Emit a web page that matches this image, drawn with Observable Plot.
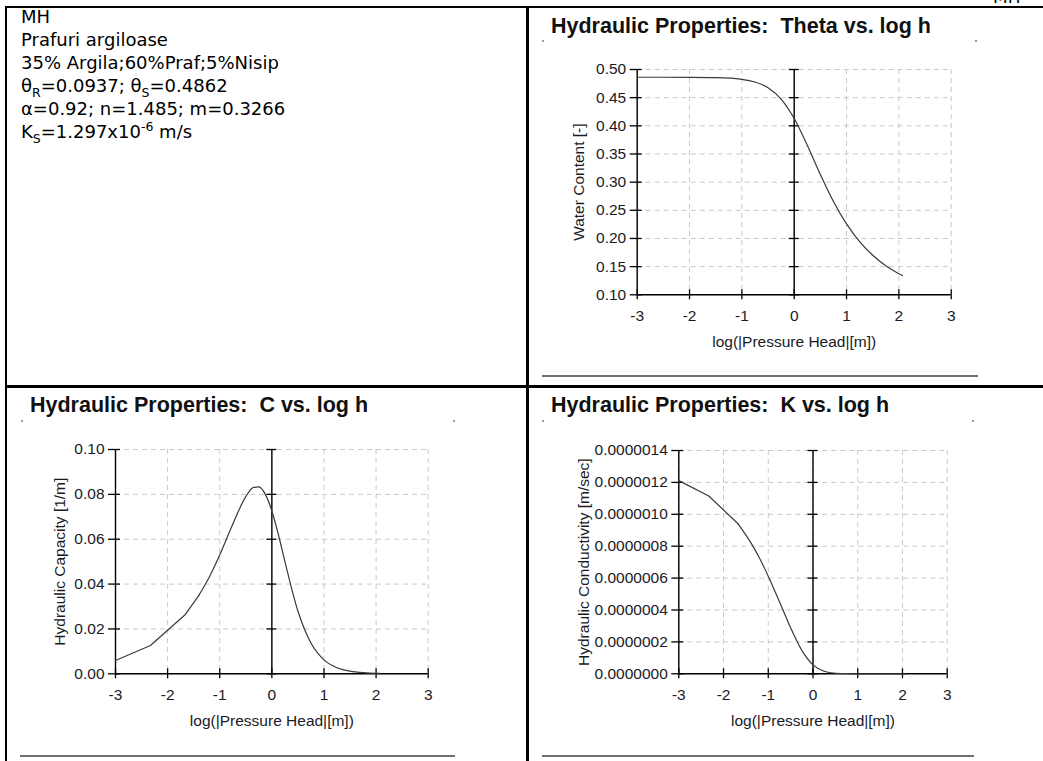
<!DOCTYPE html>
<html><head><meta charset="utf-8">
<script src="https://cdn.jsdelivr.net/npm/d3@7"></script>
<script src="https://cdn.jsdelivr.net/npm/@observablehq/plot@0.6"></script>
<style>
body{margin:0;background:#fff;}
#page{position:relative;width:1043px;height:761px;overflow:hidden;background:#fff;}
.bl{position:absolute;background:#000;}
.grule{position:absolute;background:#707070;height:2px;}
.dotm{position:absolute;width:2px;height:2px;background:#999;}
.title{position:absolute;font-family:"Liberation Sans",Arial,sans-serif;font-weight:bold;font-size:21.5px;line-height:24px;color:#111;white-space:pre;}
.info{position:absolute;left:21px;top:5px;font-family:"DejaVu Sans",Verdana,sans-serif;font-size:18px;line-height:23px;color:#000;white-space:nowrap;}
.info sub,.info sup{font-size:12.5px;line-height:0;}
.chart{position:absolute;}
.mh{position:absolute;left:993px;top:-14px;font-family:"DejaVu Sans",Verdana,sans-serif;font-size:17px;line-height:23px;}
</style></head>
<body><div id="page">
  <div class="bl" style="left:5px;top:6px;width:1038px;height:2px"></div>
  <div class="bl" style="left:5px;top:6px;width:2px;height:755px"></div>
  <div class="bl" style="left:526px;top:6px;width:3px;height:755px"></div>
  <div class="bl" style="left:5px;top:385px;width:1038px;height:3px"></div>
  <div class="mh">MH</div>
  <div class="info">
    <div>MH</div>
    <div>Prafuri argiloase</div>
    <div>35% Argila;60%Praf;5%Nisip</div>
    <div>θ<sub>R</sub>=0.0937; θ<sub>S</sub>=0.4862</div>
    <div>α=0.92; n=1.485; m=0.3266</div>
    <div>K<sub>S</sub>=1.297x10<sup>-6</sup> m/s</div>
  </div>
  <div class="title" style="left:551px;top:14px">Hydraulic Properties:  Theta vs. log h</div>
  <div class="title" style="left:30px;top:393px">Hydraulic Properties:  C vs. log h</div>
  <div class="title" style="left:551px;top:393px">Hydraulic Properties:  K vs. log h</div>
  <div class="dotm" style="left:542px;top:40px"></div><div class="dotm" style="left:975px;top:40px"></div>
  <div class="dotm" style="left:21px;top:420px"></div><div class="dotm" style="left:453px;top:420px"></div>
  <div class="dotm" style="left:542px;top:420px"></div><div class="dotm" style="left:972px;top:420px"></div>
  <div class="grule" style="left:542px;top:375px;width:436px"></div>
  <div class="grule" style="left:20px;top:755px;width:435px"></div>
  <div class="grule" style="left:542px;top:755px;width:432px"></div>
  <div id="c1" class="chart" style="left:530px;top:40px"></div>
  <div id="c2" class="chart" style="left:10px;top:420px"></div>
  <div id="c3" class="chart" style="left:530px;top:420px"></div>
</div>
<script>
const xTicks = [-3, -2, -1, 0, 1, 2, 3];
const xLabel = "log(|Pressure Head|[m])";

// Theta vs log h
const thetaLogH = [-3, -2.5, -2, -1.5, -1, -0.75, -0.5, -0.25, 0, 0.25, 0.5, 0.75, 1, 1.25, 1.5, 1.75, 2, 2.07];
const thetaValues = [0.4862, 0.4862, 0.4861, 0.4855, 0.4826, 0.4779, 0.4677, 0.4474, 0.4129, 0.3656, 0.3137, 0.2658, 0.2259, 0.1944, 0.1701, 0.1516, 0.1375, 0.1342];
const thetaTicks = [0.10, 0.15, 0.20, 0.25, 0.30, 0.35, 0.40, 0.45, 0.50];

// C vs log h
const cLogH = [-3, -2.33, -1.67, -1.4, -1.2, -1, -0.75, -0.5, -0.35, -0.25, -0.125, 0, 0.125, 0.25, 0.5, 0.75, 1, 1.25, 1.5, 1.75, 2, 2.07];
const cValues = [0.0059, 0.0126, 0.0262, 0.0350, 0.0432, 0.0530, 0.0667, 0.0790, 0.0831, 0.0833, 0.0800, 0.0726, 0.0621, 0.0501, 0.0280, 0.0137, 0.0062, 0.0027, 0.0012, 0.0005, 0.0002, 0.0002];
const cTicks = [0, 0.02, 0.04, 0.06, 0.08, 0.10];

// K vs log h
const kLogH = [-3, -2.33, -1.67, -1.4, -1.2, -1, -0.75, -0.5, -0.25, 0, 0.25, 0.5, 0.75, 1, 1.5, 2, 2.07];
const kValues = [1.211e-6, 1.115e-6, 0.939e-6, 0.827e-6, 0.728e-6, 0.612e-6, 0.452e-6, 0.288e-6, 0.147e-6, 0.056e-6, 0.0157e-6, 0.0034e-6, 0.0006e-6, 0.0001e-6, 0, 0, 0];
const kTicks = [0, 0.0000002, 0.0000004, 0.0000006, 0.0000008, 0.0000010, 0.0000012, 0.0000014];

// number of leading points joined by straight segments (visible kinks in the reference)
const straightCount = 4;

function makeChart({xs, ys, yTicks, yFormat, yLabel, width, height, mL, mR, mT, mB, yLabelOffset, straight}) {
  const data = xs.map((x, i) => ({x, y: ys[i]}));
  const head = straight ? data.slice(0, straight) : [];
  const tail = straight ? data.slice(straight - 1) : data;
  const yMin = yTicks[0], yMax = yTicks[yTicks.length - 1];
  const grid = {stroke: "#c9c9c9", strokeDasharray: "5,4", strokeWidth: 1};
  const curveStyle = {x: "x", y: "y", stroke: "#3a3a3a", strokeWidth: 1.2};
  return Plot.plot({
    width, height, marginLeft: mL, marginRight: mR, marginTop: mT, marginBottom: mB,
    style: {fontFamily: "'Liberation Sans', Arial, sans-serif", fontSize: "15.5px", color: "#1a1a26", background: "transparent", overflow: "visible"},
    x: {domain: [-3, 3]},
    y: {domain: [yMin, yMax]},
    marks: [
      Plot.ruleX(xTicks, grid),
      Plot.ruleY(yTicks, grid),
      Plot.ruleX([-3, 0], {stroke: "#000", strokeWidth: 1.4}),
      Plot.ruleY([yMin], {stroke: "#000", strokeWidth: 1.4}),
      Plot.ruleY(yTicks, {x1: -3, x2: -3, insetLeft: -7, insetRight: -5, stroke: "#000", strokeWidth: 1.3}),
      Plot.ruleY(yTicks, {x1: 0, x2: 0, insetLeft: -5, insetRight: -5, stroke: "#000", strokeWidth: 1.3}),
      Plot.ruleX(xTicks, {y1: yMin, y2: yMin, insetTop: -5, insetBottom: -5, stroke: "#000", strokeWidth: 1.3}),
      Plot.line(head, {...curveStyle, curve: "linear"}),
      Plot.line(tail, {...curveStyle, curve: "monotone-x"}),
      Plot.axisX(xTicks, {tickSize: 0, tickPadding: 15, tickFormat: d => String(d), label: xLabel, labelAnchor: "center", labelOffset: 52, labelArrow: "none"}),
      Plot.axisY(yTicks, {tickSize: 0, tickPadding: 11, tickFormat: d3.format(yFormat), label: yLabel, labelAnchor: "center", labelOffset: yLabelOffset, labelArrow: "none"})
    ]
  });
}

document.getElementById("c1").appendChild(makeChart({
  xs: thetaLogH, ys: thetaValues, yTicks: thetaTicks, yFormat: ".2f", yLabel: "Water Content [-]",
  width: 440, height: 330, mL: 106.7, mR: 19.3, mT: 29, mB: 75.7, yLabelOffset: 64, straight: 0
}));
document.getElementById("c2").appendChild(makeChart({
  xs: cLogH, ys: cValues, yTicks: cTicks, yFormat: ".2f", yLabel: "Hydraulic Capacity [1/m]",
  width: 440, height: 330, mL: 105, mR: 22.3, mT: 29, mB: 76.7, yLabelOffset: 62, straight: straightCount
}));
document.getElementById("c3").appendChild(makeChart({
  xs: kLogH, ys: kValues, yTicks: kTicks, yFormat: ".7f", yLabel: "Hydraulic Conductivity [m/sec]",
  width: 440, height: 330, mL: 148.3, mR: 23.3, mT: 30, mB: 76.7, yLabelOffset: 101, straight: straightCount - 1
}));
</script>
</body></html>
